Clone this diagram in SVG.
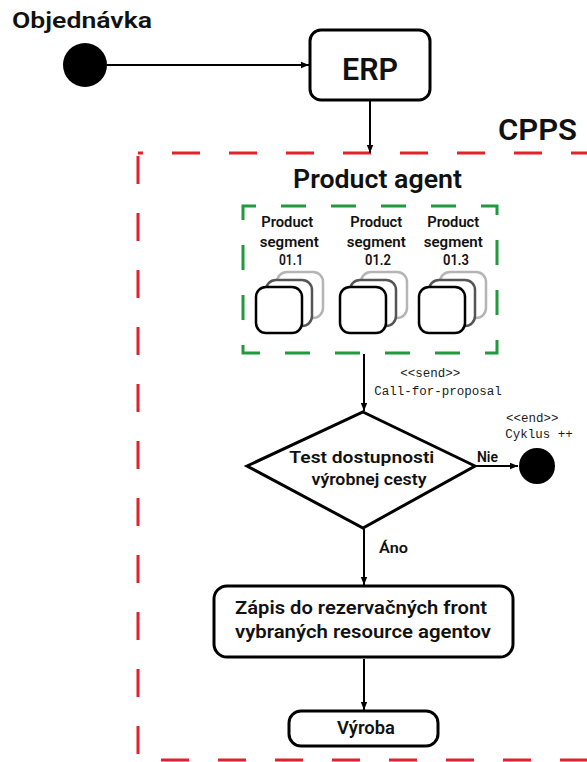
<svg xmlns="http://www.w3.org/2000/svg" width="587" height="762" viewBox="0 0 587 762">
  <defs>
    <marker id="arrow" viewBox="0 0 10 10" refX="10" refY="5" markerWidth="8" markerHeight="8" markerUnits="userSpaceOnUse" orient="auto">
      <path d="M0,1 L10,5 L0,9 Z" fill="#000"/>
    </marker>
  </defs>
  <style>
    .t { font-family: Roboto, "Liberation Sans", sans-serif; font-weight: 600; fill: #111; }
    .m { font-family: "Liberation Mono", "DejaVu Sans Mono", monospace; fill: #1a1a1a; }
    .box { fill: #fff; stroke: #000; stroke-width: 3; }
    .seg { fill: #fff; stroke-width: 2.5; }
    .edge { fill: none; stroke: #000; stroke-width: 2; marker-end: url(#arrow); }
    .cpps { fill: none; stroke: #e3202c; stroke-width: 3; stroke-dasharray: 28 29; stroke-dashoffset: 23; }
    .group { fill: none; stroke: #1f9a3e; stroke-width: 3; stroke-dasharray: 25 25; stroke-dashoffset: 12; }
  </style>

  <rect width="587" height="762" fill="#fff"/>

  <!-- CPPS boundary -->
  <g id="cpps">
    <path class="cpps" d="M138,153 H618 V760 H138 Z"/>
    <text class="t" x="498" y="140" font-size="30" textLength="79" lengthAdjust="spacingAndGlyphs">CPPS</text>
  </g>

  <!-- Start -->
  <g id="start">
    <text class="t" x="12" y="28" font-size="22" textLength="140" lengthAdjust="spacingAndGlyphs">Objednávka</text>
    <circle cx="85" cy="65" r="22" fill="#000"/>
  </g>

  <!-- ERP -->
  <g id="erp">
    <rect class="box" x="310" y="30" width="120" height="70" rx="11"/>
    <text class="t" x="370" y="80" font-size="32" text-anchor="middle" textLength="56" lengthAdjust="spacingAndGlyphs">ERP</text>
  </g>

  <!-- Product agent -->
  <g id="product-agent">
    <text class="t" x="293" y="188" font-size="25" textLength="169" lengthAdjust="spacingAndGlyphs">Product agent</text>
    <path class="group" d="M243,206 H497 V353 H243 Z"/>
  </g>

  <!-- Product segments -->
  <g id="segment-01-1">
    <text class="t" font-size="14" text-anchor="middle">
      <tspan x="289" y="227" textLength="52" lengthAdjust="spacingAndGlyphs">Product</tspan>
      <tspan x="291" y="247" textLength="59" lengthAdjust="spacingAndGlyphs">segment</tspan>
      <tspan x="291" y="265" textLength="24" lengthAdjust="spacingAndGlyphs">01.1</tspan>
    </text>
    <rect class="seg" x="277" y="272" width="46" height="46" rx="10" stroke="#b5b5b5"/>
    <rect class="seg" x="266" y="280" width="46" height="46" rx="10" stroke="#555"/>
    <rect class="seg" x="256" y="287" width="46" height="46" rx="10" stroke="#000"/>
  </g>

  <g id="segment-01-2">
    <text class="t" font-size="14" text-anchor="middle">
      <tspan x="378" y="227" textLength="52" lengthAdjust="spacingAndGlyphs">Product</tspan>
      <tspan x="378" y="247" textLength="59" lengthAdjust="spacingAndGlyphs">segment</tspan>
      <tspan x="378" y="265" textLength="26" lengthAdjust="spacingAndGlyphs">01.2</tspan>
    </text>
    <rect class="seg" x="361" y="272" width="46" height="46" rx="10" stroke="#b5b5b5"/>
    <rect class="seg" x="350" y="280" width="46" height="46" rx="10" stroke="#555"/>
    <rect class="seg" x="340" y="287" width="46" height="46" rx="10" stroke="#000"/>
  </g>

  <g id="segment-01-3">
    <text class="t" font-size="14" text-anchor="middle">
      <tspan x="455" y="227" textLength="52" lengthAdjust="spacingAndGlyphs">Product</tspan>
      <tspan x="455" y="247" textLength="59" lengthAdjust="spacingAndGlyphs">segment</tspan>
      <tspan x="456" y="265" textLength="26" lengthAdjust="spacingAndGlyphs">01.3</tspan>
    </text>
    <rect class="seg" x="440" y="272" width="46" height="46" rx="10" stroke="#b5b5b5"/>
    <rect class="seg" x="429" y="280" width="46" height="46" rx="10" stroke="#555"/>
    <rect class="seg" x="419" y="287" width="46" height="46" rx="10" stroke="#000"/>
  </g>

  <!-- Decision -->
  <g id="decision">
    <polygon class="box" points="363,412 475,466 363,528 247,466"/>
    <text class="t" font-size="17" text-anchor="middle">
      <tspan x="364" y="463" textLength="145" lengthAdjust="spacingAndGlyphs">Test dostupnosti</tspan>
      <tspan x="369" y="485" textLength="115" lengthAdjust="spacingAndGlyphs">výrobnej cesty</tspan>
    </text>
  </g>

  <!-- End of cycle -->
  <g id="end">
    <text class="m" font-size="12.5" text-anchor="middle">
      <tspan x="536" y="422">&lt;&lt;end&gt;&gt;</tspan>
      <tspan x="539" y="438">Cyklus ++</tspan>
    </text>
    <circle cx="537" cy="466" r="18" fill="#000"/>
  </g>

  <!-- Reservation -->
  <g id="reservation">
    <rect class="box" x="214" y="586" width="299" height="71" rx="13"/>
    <text class="t" font-size="19">
      <tspan x="235" y="614" textLength="252" lengthAdjust="spacingAndGlyphs">Zápis do rezervačných front</tspan>
      <tspan x="235" y="638" textLength="256" lengthAdjust="spacingAndGlyphs">vybraných resource agentov</tspan>
    </text>
  </g>

  <!-- Production -->
  <g id="production">
    <rect class="box" x="289" y="711" width="149" height="35" rx="12"/>
    <text class="t" x="337" y="734" font-size="19" textLength="58" lengthAdjust="spacingAndGlyphs">Výroba</text>
  </g>

  <!-- Connectors -->
  <g id="connectors">
    <line class="edge" x1="107" y1="65" x2="309" y2="65"/>
    <line class="edge" x1="370" y1="101" x2="370" y2="153"/>
    <line class="edge" x1="364" y1="354" x2="364" y2="411"/>
    <text class="m" font-size="12.5" text-anchor="middle">
      <tspan x="434" y="377">&lt;&lt;send&gt;&gt;</tspan>
      <tspan x="438" y="395">Call-for-proposal</tspan>
    </text>
    <line class="edge" x1="476" y1="466" x2="518" y2="466"/>
    <text class="t" x="477" y="462" font-size="15" textLength="21" lengthAdjust="spacingAndGlyphs">Nie</text>
    <line class="edge" x1="364" y1="529" x2="364" y2="585"/>
    <text class="t" x="379" y="553" font-size="15" textLength="29" lengthAdjust="spacingAndGlyphs">Áno</text>
    <line class="edge" x1="364" y1="659" x2="364" y2="710"/>
  </g>
</svg>
